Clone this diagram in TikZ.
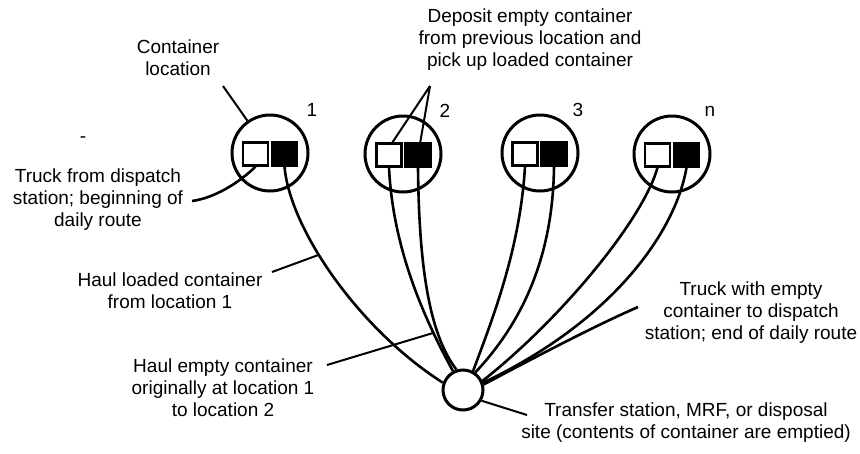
\documentclass[tikz,border=0pt]{standalone}
\usepackage{fontspec}
\setmainfont{Liberation Sans}
\begin{document}
\begin{tikzpicture}[x=1pt,y=-1pt,
  lbl/.style={align=center, inner sep=0pt, font=\fontsize{19}{22}\selectfont},
  num/.style={inner sep=0pt, font=\fontsize{19}{22}\selectfont},
  loc/.style={circle, draw, line width=3pt, minimum size=76pt, inner sep=0pt},
  wbox/.style={draw, line width=2.2pt, fill=white, minimum width=25pt, minimum height=23pt, inner sep=0pt},
  bbox/.style={draw, line width=2.2pt, fill=black, minimum width=25pt, minimum height=23pt, inner sep=0pt},
  wire/.style={line width=2.6pt},
  ptr/.style={line width=2pt}]
\useasboundingbox (0,0) rectangle (860,453);

% container locations
\node[loc] (c1) at (270,153) {};
\node[wbox] (w1) at (255.5,154) {};
\node[bbox] (b1) at (284.5,154) {};
\node[loc] (c2) at (403,154) {};
\node[wbox] (w2) at (389,155) {};
\node[bbox] (b2) at (418,155) {};
\node[loc] (c3) at (540,153) {};
\node[wbox] (w3) at (525,154) {};
\node[bbox] (b3) at (554,154) {};
\node[loc] (c4) at (672,154) {};
\node[wbox] (w4) at (657.5,155) {};
\node[bbox] (b4) at (686.5,155) {};

\node[num] (n1) at (312,110) {1};
\node[num] (n2) at (445,111) {2};
\node[num] (n3) at (578,110) {3};
\node[num] (n4) at (710,111) {n};

% transfer station
\node[circle, draw, line width=3pt, minimum size=40pt, inner sep=0pt, fill=white] (T) at (463,390) {};

% routes
\draw[wire] (b1.south) .. controls (290,230) and (360,330) .. (T.160) coordinate[pos=0.4] (hl);
\draw[wire] (w2.south) .. controls (393,250) and (425,320) .. (T.118) coordinate[pos=0.77] (he);
\draw[wire] (b2.south) .. controls (419,270) and (430,335) .. (T.108);
\draw[wire] (w3.south) .. controls (520,250) and (492,320) .. (T.62);
\draw[wire] (b3.south) .. controls (553,260) and (520,325) .. (T.55);
\draw[wire] (w4.south) .. controls (643,220) and (560,320) .. (T.25);
\draw[wire] (b4.south) .. controls (676,230) and (615,320) .. (T.20);
\coordinate (tout) at (638,307);
\draw[wire] (tout) .. controls (590,328) and (530,360) .. (T.15);
\coordinate (tfp) at (192,201);
\draw[wire] (tfp) .. controls (215,198) and (240,182) .. (w1.south);

% labels
\node[lbl] (cl) at (178,58) {Container\\location};
\node[lbl] (dep) at (530,40) {Deposit empty container\\from previous location and\\pick up loaded container};
\node[lbl] (tf) at (98,200) {Truck from dispatch\\station; beginning of\\daily route};
\node[lbl] (hlt) at (170,291) {Haul loaded container\\from location 1};
\node[lbl] (het) at (223,388) {Haul empty container\\originally at location 1\\to location 2};
\node[lbl] (twt) at (751,313) {Truck with empty\\container to dispatch\\station; end of daily route};
\node[lbl] (tst) at (686,423) {Transfer station, MRF, or disposal\\site (contents of container are emptied)};
\node[num] (dash) at (83,140) {-};

% pointers
\coordinate (clp) at (223,86);
\draw[ptr] (clp) -- (c1.125);
\coordinate (dp) at (430,86);
\draw[ptr] (dp) -- (w2.75);
\draw[ptr] (dp) -- (b2.80);
\coordinate (hlp) at (272,272);
\draw[ptr] (hlp) -- (hl);
\coordinate (hep) at (327,365);
\draw[ptr] (hep) -- (he);
\coordinate (tsp) at (527,415);
\draw[ptr] (T.-30) -- (tsp);
\end{tikzpicture}
\end{document}
